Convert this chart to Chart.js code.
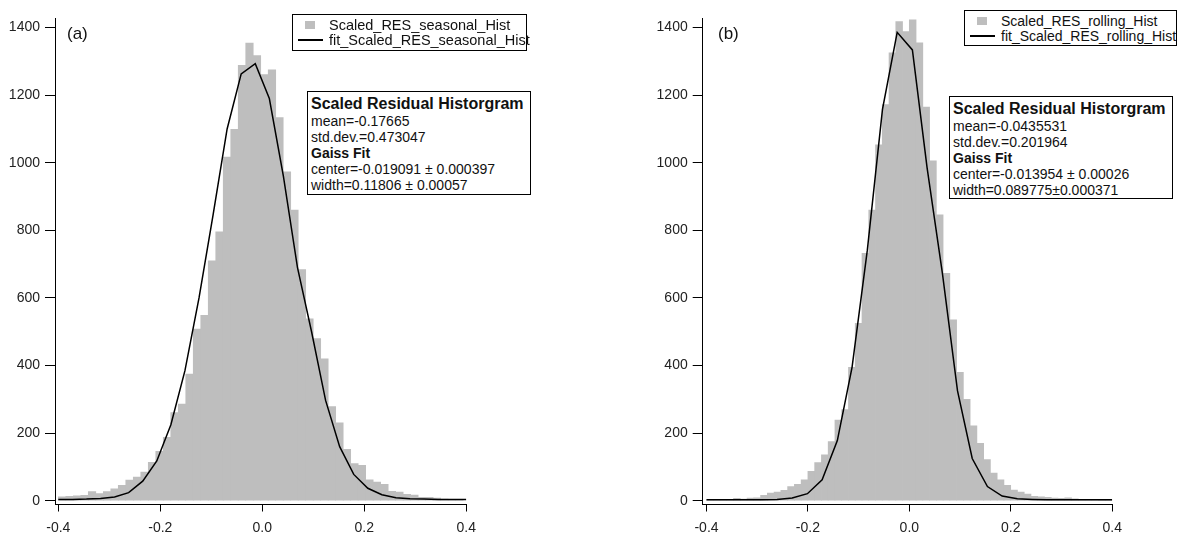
<!DOCTYPE html>
<html>
<head>
<meta charset="utf-8">
<script src="https://cdn.jsdelivr.net/npm/chart.js@4.4.1/dist/chart.umd.min.js"></script>
<style>
  body { margin: 0; background: #fff; }
  #wrap { position: relative; width: 1179px; height: 536px; overflow: hidden;
          font-family: "Liberation Sans", Arial, sans-serif; color: #111; }
  canvas { position: absolute; top: 0; }
  .box { position: absolute; background: #fff; border: 1px solid #000; box-sizing: border-box; white-space: nowrap; }
  .row { position: absolute; left: 0; right: 0; height: 16px; line-height: 16px; }
  .sw { position: absolute; top: 4px; width: 10px; height: 8px; background: #bebebe; }
  .ln { position: absolute; top: 7px; height: 2px; background: #000; }
  .stats { padding: 2px 0 0 3px; font-size: 14px; line-height: 16px; }
  .stats .title { font-size: 16px; font-weight: bold; line-height: 19px; }
  .stats b { font-weight: bold; }
  .tag { position: absolute; font-size: 17px; line-height: 18px; }
</style>
</head>
<body>
<div id="wrap">
  <canvas id="chartA" width="590" height="536" style="left:0"></canvas>
  <canvas id="chartB" width="589" height="536" style="left:590px"></canvas>

  <div class="tag" style="left:67px;top:25px">(a)</div>
  <div class="tag" style="left:718px;top:25px">(b)</div>

  <div class="box" style="left:292px;top:14px;width:235px;height:37px;font-size:14.5px">
    <div class="row" style="top:2px"><span class="sw" style="left:12px"></span><span style="position:absolute;left:36px">Scaled_RES_seasonal_Hist</span></div>
    <div class="row" style="top:17px"><span class="ln" style="left:5px;width:25px"></span><span style="position:absolute;left:36px">fit_Scaled_RES_seasonal_Hist</span></div>
  </div>

  <div class="box" style="left:964px;top:10px;width:213px;height:36px;font-size:14px">
    <div class="row" style="top:2px"><span class="sw" style="left:12px"></span><span style="position:absolute;left:36px">Scaled_RES_rolling_Hist</span></div>
    <div class="row" style="top:17px"><span class="ln" style="left:5px;width:25px"></span><span style="position:absolute;left:36px">fit_Scaled_RES_rolling_Hist</span></div>
  </div>

  <div class="box stats" style="left:307px;top:91px;width:224px;height:104px">
    <div class="title">Scaled Residual Historgram</div>
    <div>mean=-0.17665</div>
    <div>std.dev.=0.473047</div>
    <div><b>Gaiss Fit</b></div>
    <div>center=-0.019091 ± 0.000397</div>
    <div>width=0.11806 ± 0.00057</div>
  </div>

  <div class="box stats" style="left:949px;top:96px;width:224px;height:103px">
    <div class="title">Scaled Residual Historgram</div>
    <div>mean=-0.0435531</div>
    <div>std.dev.=0.201964</div>
    <div><b>Gaiss Fit</b></div>
    <div>center=-0.013954 ± 0.00026</div>
    <div>width=0.089775±0.000371</div>
  </div>
</div>

<script>
const yTicks = [0, 200, 400, 600, 800, 1000, 1200, 1400];
const xTicks = [-0.4, -0.2, 0, 0.2, 0.4];
const xTickLabels = ['-0.4', '-0.2', '0.0', '0.2', '0.4'];

// (a) seasonal residual histogram, bins start at -0.4
const binStartA = -0.4;
const binWidthA = 0.0147;
const countsA = [12, 13, 15, 16, 27, 21, 27, 35, 46, 61,
  70, 85, 114, 146, 188, 261, 286, 375, 508, 549,
  710, 796, 1017, 1099, 1288, 1354, 1317, 1261, 1275, 1134,
  973, 860, 684, 538, 480, 420, 279, 231, 152, 110,
  105, 62, 55, 49, 28, 26, 19, 17, 10, 10,
  8, 5, 4, 3];
const fitXA = [-0.4, -0.3724, -0.3448, -0.3172, -0.2897, -0.2621, -0.2345, -0.2069, -0.1793, -0.1517,
  -0.1241, -0.0966, -0.069, -0.0414, -0.0138, 0.0138, 0.0414, 0.069, 0.0966, 0.1241,
  0.1517, 0.1793, 0.2069, 0.2345, 0.2621, 0.2897, 0.3172, 0.3448, 0.3724, 0.4];
const fitYA = [4, 4, 5, 7, 11, 24, 58, 118, 225, 385,
  600, 845, 1100, 1263, 1293, 1190, 960, 690, 500, 297,
  160, 78, 37, 18, 9, 6, 5, 4, 4, 4];

// (b) rolling residual histogram
const binStartB = -0.4;
const binWidthB = 0.01333;
const countsB = [3, 2, 4, 3, 7, 5, 8, 9, 16, 23,
  26, 31, 42, 49, 62, 87, 113, 136, 175, 239,
  270, 395, 525, 732, 860, 1053, 1172, 1325, 1418, 1388,
  1423, 1355, 1165, 1006, 846, 673, 535, 380, 300, 222,
  170, 122, 82, 62, 46, 32, 26, 20, 13, 12,
  10, 8, 7, 9, 6, 3, 3, 2, 1, 1];
const fitXB = [-0.4, -0.379, -0.349, -0.32, -0.29, -0.261, -0.231, -0.201, -0.172, -0.142,
  -0.113, -0.083, -0.053, -0.024, 0.006, 0.035, 0.065, 0.095, 0.124, 0.154,
  0.183, 0.213, 0.243, 0.272, 0.302, 0.331, 0.361, 0.391, 0.4];
const fitYB = [3, 3, 3, 3, 3, 4, 8, 21, 62, 178,
  395, 740, 1158, 1386, 1334, 985, 675, 325, 125, 42,
  14, 6, 4, 3, 3, 3, 3, 3, 3];

const tickFont = { family: "'Liberation Sans', Arial, sans-serif", size: 14 };

function makeChart(id, counts, binStart, binWidth, fitX, fitY, xMin, padding) {
  const bars = counts.map((c, i) => ({ x: binStart + (i + 0.5) * binWidth, y: c }));
  const fit = fitX.map((x, i) => ({ x: x, y: fitY[i] }));

  return new Chart(document.getElementById(id), {
    type: 'bar',
    data: {
      datasets: [
        {
          type: 'line',
          data: fit,
          borderColor: '#000',
          borderWidth: 1.5,
          pointRadius: 0,
          tension: 0,
          fill: false,
          order: 0
        },
        {
          type: 'bar',
          data: bars,
          backgroundColor: '#bebebe',
          borderWidth: 0,
          barPercentage: 1,
          categoryPercentage: 1,
          order: 1
        }
      ]
    },
    options: {
      responsive: false,
      animation: false,
      layout: { padding: padding },
      plugins: { legend: { display: false }, tooltip: { enabled: false } },
      scales: {
        x: {
          type: 'linear',
          min: xMin,
          max: 0.4,
          offset: false,
          afterBuildTicks: (axis) => { axis.ticks = xTicks.map(v => ({ value: v })); },
          afterFit: (axis) => { axis.height = 31.5; },
          grid: { display: true, offset: false, drawOnChartArea: false, tickLength: 7, color: '#000' },
          border: { display: true, color: '#000', width: 1 },
          ticks: {
            autoSkip: false,
            maxRotation: 0,
            padding: 8,
            color: '#222',
            font: tickFont,
            callback: (v, i) => xTickLabels[i]
          }
        },
        y: {
          min: -11,
          max: 1426,
          afterBuildTicks: (axis) => { axis.ticks = yTicks.map(v => ({ value: v })); },
          afterFit: (axis) => { axis.width = 55; },
          grid: { display: true, drawOnChartArea: false, tickLength: 10, color: '#000' },
          border: { display: true, color: '#000', width: 1 },
          ticks: {
            padding: 5,
            color: '#222',
            font: tickFont,
            callback: (v) => String(v)
          }
        }
      }
    }
  });
}

makeChart('chartA', countsA, binStartA, binWidthA, fitXA, fitYA, -0.4065,
  { left: 0, right: 123.7, top: 18.8, bottom: 0 });
makeChart('chartB', countsB, binStartB, binWidthB, fitXB, fitYB, -0.4075,
  { left: 57.7, right: 66.8, top: 18.8, bottom: 0 });
</script>
</body>
</html>
